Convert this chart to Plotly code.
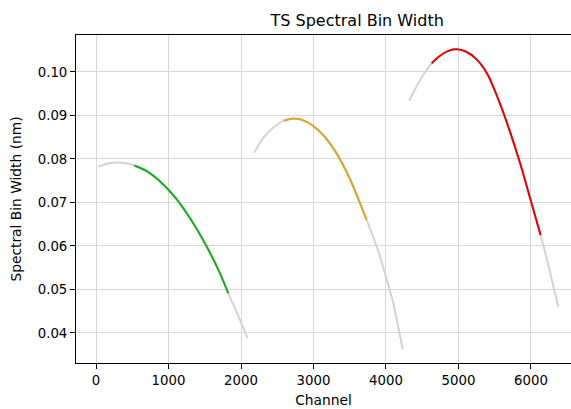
import plotly.graph_objects as go

# Segment 1 (full fitted curve, gray) and its highlighted part (green)
seg1_x = [30, 150, 300, 420, 530, 700, 900, 1100, 1300, 1500, 1700, 1825, 1950, 2092]
seg1_y = [0.0782, 0.0789, 0.0792, 0.0790, 0.0785, 0.0772, 0.0746, 0.0710, 0.0663, 0.0607, 0.0541, 0.0491, 0.0444, 0.0388]
green_x = [530, 700, 900, 1100, 1300, 1500, 1700, 1825]
green_y = [0.0785, 0.0772, 0.0746, 0.0710, 0.0663, 0.0607, 0.0541, 0.0491]

# Segment 2 (gray) and highlighted part (gold)
seg2_x = [2180, 2300, 2450, 2590, 2730, 2900, 3100, 3300, 3500, 3733, 3900, 4000, 4100, 4230]
seg2_y = [0.0814, 0.0847, 0.0873, 0.0888, 0.0893, 0.0886, 0.0861, 0.0818, 0.0755, 0.0660, 0.0585, 0.0529, 0.0469, 0.0363]
gold_x = [2590, 2730, 2900, 3100, 3300, 3500, 3733]
gold_y = [0.0888, 0.0893, 0.0886, 0.0861, 0.0818, 0.0755, 0.0660]

# Segment 3 (gray) and highlighted part (red)
seg3_x = [4320, 4420, 4530, 4630, 4750, 4870, 4975, 5100, 5250, 5400, 5550, 5700, 5850, 6000, 6133, 6250, 6377]
seg3_y = [0.0934, 0.0966, 0.0997, 0.1020, 0.1038, 0.1049, 0.1052, 0.1047, 0.1029, 0.0995, 0.0937, 0.0868, 0.0790, 0.0703, 0.0625, 0.0549, 0.0459]
red_x = [4630, 4750, 4870, 4975, 5100, 5250, 5400, 5550, 5700, 5850, 6000, 6133]
red_y = [0.1020, 0.1038, 0.1049, 0.1052, 0.1047, 0.1029, 0.0995, 0.0937, 0.0868, 0.0790, 0.0703, 0.0625]

y_ticks = [0.04, 0.05, 0.06, 0.07, 0.08, 0.09, 0.10]
x_ticks = [0, 1000, 2000, 3000, 4000, 5000, 6000]

GRAY = "#d3d3d3"
fig = go.Figure()
for xs, ys in [(seg1_x, seg1_y), (seg2_x, seg2_y), (seg3_x, seg3_y)]:
    fig.add_trace(go.Scatter(x=xs, y=ys, mode="lines",
                             line=dict(color=GRAY, width=2, shape="spline", smoothing=0.8),
                             showlegend=False, hoverinfo="skip"))
for xs, ys, c in [(green_x, green_y, "#17ad17"), (gold_x, gold_y, "#daa520"), (red_x, red_y, "#e60000")]:
    fig.add_trace(go.Scatter(x=xs, y=ys, mode="lines",
                             line=dict(color=c, width=2, shape="spline", smoothing=0.8),
                             showlegend=False))

font = "DejaVu Sans, sans-serif"
fig.update_layout(
    width=571, height=409,
    margin=dict(l=76, r=0, t=35, b=46),
    plot_bgcolor="white", paper_bgcolor="white",
    font=dict(family=font, size=13.3, color="black"),
    title=dict(text="TS Spectral Bin Width", x=0.568, xref="paper", xanchor="center",
               y=1 - 20 / 409, yref="container", yanchor="middle",
               font=dict(size=16, family=font, color="black")),
)
fig.update_xaxes(
    range=[-276, 6552], tickvals=x_ticks, ticktext=[str(v) for v in x_ticks],
    showgrid=True, gridcolor="#d8d8d8", gridwidth=0.8, zeroline=False,
    showline=True, linecolor="black", linewidth=1, mirror=True,
    ticks="outside", ticklen=5, tickcolor="black", tickwidth=1,
    tickfont=dict(size=13.3, family=font, color="black"),
    automargin=False,
    title=dict(text="Channel", standoff=8, font=dict(size=13.8, family=font, color="black")),
)
fig.update_yaxes(
    range=[0.0331, 0.1085], tickvals=y_ticks, ticktext=[f"{v:.2f}" for v in y_ticks],
    showgrid=True, gridcolor="#d8d8d8", gridwidth=0.8, zeroline=False,
    showline=True, linecolor="black", linewidth=1, mirror=False,
    ticks="outside", ticklen=5, tickcolor="black", tickwidth=1,
    tickfont=dict(size=13.3, family=font, color="black"),
    automargin=False,
    title=dict(text="Spectral Bin Width (nm)", standoff=12, font=dict(size=13.8, family=font, color="black")),
)
fig.write_html("out.html", config={"displayModeBar": False},
               post_script="document.body.style.margin='0';document.body.style.padding='0';")
